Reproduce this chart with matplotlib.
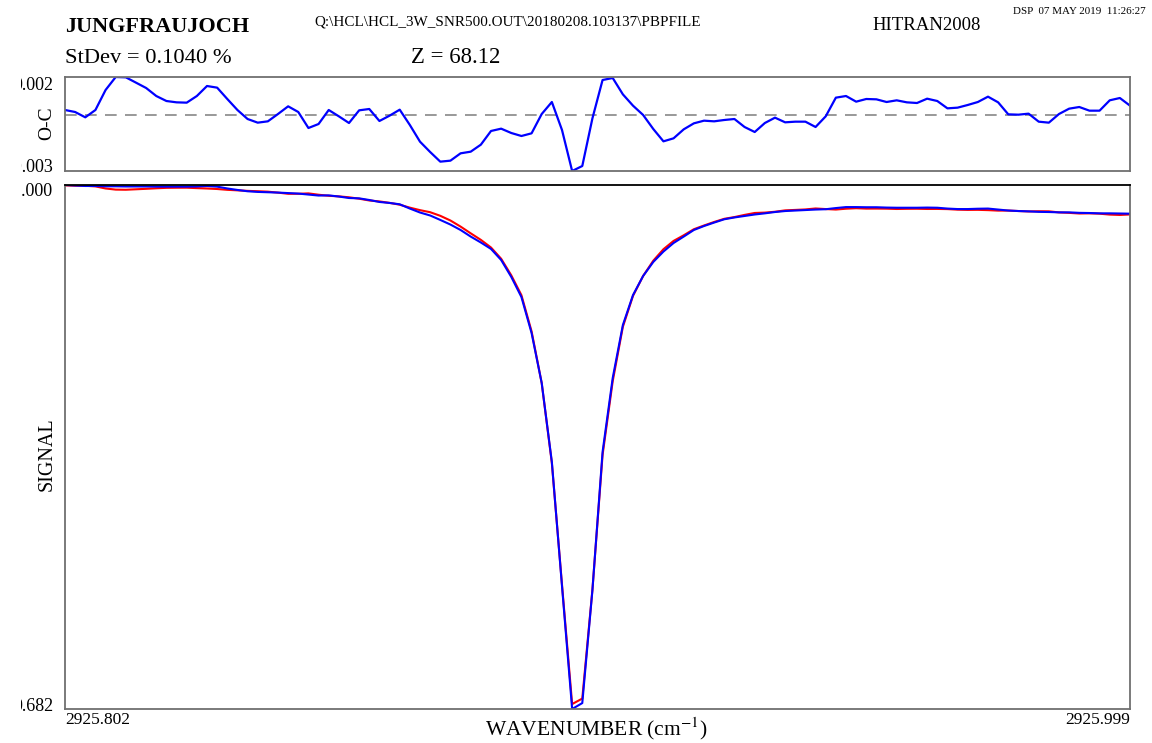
import numpy as np
import matplotlib
matplotlib.use('Agg')
import matplotlib.pyplot as plt
from matplotlib.transforms import Bbox, TransformedBbox

plt.rcParams['font.family'] = ['Liberation Serif', 'DejaVu Serif']
plt.rcParams['mathtext.fontset'] = 'stix'

# spectral window (cm-1)
wn_start, wn_end = 2925.802, 2925.999
n_points = 106

# observed spectrum (blue)
observed = [
    1.0000, 0.9997, 0.9994, 0.9994, 0.9992, 0.9992, 0.9991, 0.9991, 0.9991, 0.9990,
    0.9990, 0.9990, 0.9990, 0.9991, 0.9994, 0.9990, 0.9979, 0.9970, 0.9962, 0.9958,
    0.9956, 0.9954, 0.9951, 0.9948, 0.9942, 0.9936, 0.9937, 0.9930, 0.9921, 0.9919,
    0.9909, 0.9897, 0.9891, 0.9883, 0.9857, 0.9833, 0.9815, 0.9788, 0.9760, 0.9727,
    0.9687, 0.9651, 0.9612, 0.9545, 0.9442, 0.9320, 0.9102, 0.8798, 0.8319, 0.7566,
    0.6820, 0.6856, 0.7542, 0.8380, 0.8829, 0.9150, 0.9332, 0.9448, 0.9533, 0.9596,
    0.9648, 0.9687, 0.9727, 0.9751, 0.9772, 0.9792, 0.9803, 0.9812, 0.9821, 0.9828,
    0.9836, 0.9842, 0.9845, 0.9848, 0.9851, 0.9853, 0.9860, 0.9866, 0.9866, 0.9865,
    0.9865, 0.9863, 0.9862, 0.9862, 0.9862, 0.9863, 0.9862, 0.9857, 0.9854, 0.9854,
    0.9856, 0.9857, 0.9851, 0.9845, 0.9842, 0.9840, 0.9837, 0.9836, 0.9834, 0.9834,
    0.9831, 0.9830, 0.9828, 0.9828, 0.9827, 0.9826,
]

# observed - calculated, in units of 1e-3
o_minus_c = [
    0.245, 0.138, -0.145, 0.245, 1.308, 2.000, 1.982, 1.699, 1.415, 0.989,
    0.723, 0.652, 0.635, 0.989, 1.521, 1.433, 0.830, 0.245, -0.234, -0.429,
    -0.358, 0.032, 0.440, 0.138, -0.713, -0.500, 0.245, -0.092, -0.447, 0.227,
    0.298, -0.340, -0.057, 0.262, -0.553, -1.440, -1.989, -2.503, -2.450, -2.060,
    -1.972, -1.599, -0.872, -0.748, -0.979, -1.138, -0.996, 0.032, 0.670, -0.819,
    -3.000, -2.734, -0.199, 1.840, 1.947, 1.078, 0.475, -0.021, -0.766, -1.422,
    -1.262, -0.784, -0.465, -0.323, -0.358, -0.287, -0.234, -0.660, -0.926, -0.447,
    -0.163, -0.411, -0.376, -0.376, -0.660, -0.092, 0.901, 0.989, 0.688, 0.830,
    0.812, 0.670, 0.759, 0.652, 0.617, 0.847, 0.723, 0.333, 0.369, 0.511,
    0.670, 0.954, 0.652, 0.014, -0.004, 0.050, -0.376, -0.429, 0.032, 0.316,
    0.404, 0.209, 0.209, 0.759, 0.883, 0.475,
]

resid_lim = (-0.003, 0.002)
signal_lim = (0.682, 1.000)

wn = np.linspace(wn_start, wn_end, n_points)
obs = np.array(observed)
oc = np.array(o_minus_c) * 1e-3
calc = obs - oc

W, H = 1152, 743
fig = plt.figure(figsize=(W / 100, H / 100), dpi=100)


def fx(x):
    return x / W


def fy(y):
    return 1 - y / H


# O-C panel
ax_r = fig.add_axes([fx(65), fy(171), fx(1130) - fx(65), fy(77) - fy(171)])
ax_r.axhline(0, color='#888888', lw=1.2, dashes=(7, 5))
ax_r.plot(wn, oc, color='#0000FF', lw=1.6)
ax_r.set_xlim(wn[0], wn[-1])
ax_r.set_ylim(*resid_lim)

# spectrum panel
ax = fig.add_axes([fx(65), fy(709), fx(1130) - fx(65), fy(185) - fy(709)])
ax.plot(wn, calc, color='#FF0000', lw=1.5)
ax.plot(wn, obs, color='#0000FF', lw=1.5)
ax.set_xlim(wn[0], wn[-1])
ax.set_ylim(*signal_lim)

for a in (ax_r, ax):
    a.set_xticks([])
    a.set_yticks([])
    for spine in a.spines.values():
        spine.set_edgecolor('#707070')
        spine.set_linewidth(1.3)
ax.spines['top'].set_edgecolor('black')

# y limits written at the panel corners, cut at the left margin
clip = TransformedBbox(Bbox([[fx(20.5), 0], [1, 1]]), fig.transFigure)
lim_labels = [
    ('{:.3f}'.format(resid_lim[1]), 77, 'top'),
    ('{:.3f}'.format(resid_lim[0]), 176, 'bottom'),
    ('{:.3f}'.format(signal_lim[1]), 183, 'top'),
    ('{:.3f}'.format(signal_lim[0]), 715, 'bottom'),
]
for txt, y, va in lim_labels:
    t = fig.text(fx(53), fy(y), txt, ha='right', va=va, fontsize=13)
    t.set_clip_box(clip)
    t.set_clip_on(True)

fig.text(fx(47), fy(123), 'O-C', rotation=90, ha='center', va='center', fontsize=14)
fig.text(fx(47), fy(454), 'SIGNAL', rotation=90, ha='center', va='center', fontsize=14.5)

fig.text(fx(65), fy(712), '{:.3f}'.format(wn_start), ha='left', va='top', fontsize=12.5)
fig.text(fx(1130), fy(712), '{:.3f}'.format(wn_end), ha='right', va='top', fontsize=12.5)
fig.text(fx(596), fy(742), 'WAVENUMBER (cm$^{-1}$)', ha='center', va='bottom', fontsize=15.5)

# header
fig.text(fx(65), fy(32), 'JUNGFRAUJOCH', ha='left', va='baseline', fontsize=16, weight='bold')
fig.text(fx(314), fy(25), r'Q:\HCL\HCL_3W_SNR500.OUT\20180208.103137\PBPFILE',
         ha='left', va='baseline', fontsize=10.9)
fig.text(fx(872), fy(30), 'HITRAN2008', ha='left', va='baseline', fontsize=13.5)
fig.text(fx(1013), fy(14), 'DSP  07 MAY 2019  11:26:27', ha='left', va='baseline', fontsize=7.9)
fig.text(fx(65), fy(63), 'StDev = 0.1040 %', ha='left', va='baseline', fontsize=16.2)
fig.text(fx(411), fy(63), 'Z = 68.12', ha='left', va='baseline', fontsize=16.4)

fig.savefig('out.png', dpi=100)
